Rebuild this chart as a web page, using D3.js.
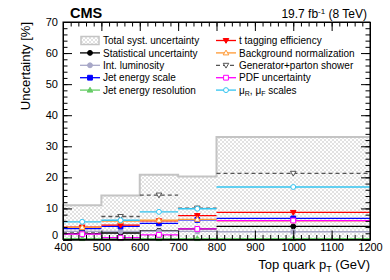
<!DOCTYPE html>
<html>
<head>
<meta charset="utf-8">
<script src="https://cdn.jsdelivr.net/npm/d3@7"></script>
<style>
  body { margin: 0; background: #fff; }
  text { font-family: "Liberation Sans", Arial, sans-serif; }
</style>
</head>
<body>
<svg id="chart" width="390" height="280"></svg>
<script>
// bin edges (GeV) and bin centres
var edges = [400, 500, 600, 700, 800, 1200];
var centers = [450, 550, 650, 750, 1000];

// uncertainties in % per bin
var totalSyst  = [11.0, 14.2, 20.8, 20.3, 33.0];
var statUnc    = [1.9, 2.1, 2.8, 3.4, 4.2];
var lumiUnc    = [2.6, 2.6, 2.6, 2.6, 2.5];
var jesUnc     = [3.5, 4.2, 5.2, 6.3, 6.8];
var jerUnc     = [0.3, 0.3, 0.3, 0.3, 0.3];
var ttagUnc    = [4.0, 4.6, 6.0, 7.7, 8.7];
var bkgUnc     = [3.9, 5.9, 6.2, 6.5, 6.0];
var genUnc     = [2.1, 7.4, 14.3, 10.1, 21.3];
var pdfUnc     = [1.7, 0.6, 1.5, 3.4, 6.1];
var scaleUnc   = [5.7, 6.2, 8.9, 9.9, 16.9];

var xTicks = [400, 500, 600, 700, 800, 900, 1000, 1100, 1200];
var yTicks = [0, 10, 20, 30, 40, 50, 60, 70];

var svg = d3.select("#chart");
var margin = {top: 22, right: 20, bottom: 40.5, left: 63},
    W = 390, H = 280,
    width = W - margin.left - margin.right,
    height = H - margin.top - margin.bottom;

var x = d3.scaleLinear().domain([400, 1200]).range([0, width]);
var y = d3.scaleLinear().domain([0, 70]).range([height, 0]);

var defs = svg.append("defs");
var pat = defs.append("pattern")
  .attr("id", "hatch").attr("patternUnits", "userSpaceOnUse")
  .attr("width", 4).attr("height", 4);
pat.append("path").attr("d", "M0,0 L4,4 M4,0 L0,4")
  .attr("stroke", "#cfcfcf").attr("stroke-width", 0.6);

var g = svg.append("g").attr("transform", "translate(" + margin.left + "," + margin.top + ")");

// total systematic band
var stepPts = edges.map(function(e, i) { return [e, i < totalSyst.length ? totalSyst[i] : totalSyst[totalSyst.length - 1]]; });
var area = d3.area().curve(d3.curveStepAfter)
  .x(function(d) { return x(d[0]); }).y0(y(0)).y1(function(d) { return y(d[1]); });
g.append("path").datum(stepPts).attr("d", area).attr("fill", "url(#hatch)");
var outline = stepPts.slice();
outline.unshift([400, 0]);
outline.push([1200, 0]);
g.append("path").datum(outline)
  .attr("d", d3.line().curve(d3.curveStepAfter).x(function(d) { return x(d[0]); }).y(function(d) { return y(d[1]); }))
  .attr("fill", "none").attr("stroke", "#c4c4c4").attr("stroke-width", 2);

var series = [
  {name: "Statistical uncertainty", vals: statUnc, color: "#000000", marker: "circle", fill: true},
  {name: "Int. luminosity", vals: lumiUnc, color: "#a8a8c8", marker: "circle", fill: true},
  {name: "Jet energy scale", vals: jesUnc, color: "#0000ff", marker: "square", fill: true},
  {name: "Jet energy resolution", vals: jerUnc, color: "#66cc66", marker: "triUp", fill: true},
  {name: "t tagging efficiency", vals: ttagUnc, color: "#ff0000", marker: "triDown", fill: true},
  {name: "Background normalization", vals: bkgUnc, color: "#ff9933", marker: "triUp", fill: false},
  {name: "Generator+parton shower", vals: genUnc, color: "#555555", marker: "triDown", fill: false, dash: "4,3"},
  {name: "PDF uncertainty", vals: pdfUnc, color: "#ff00ff", marker: "square", fill: false},
  {name: "scales", vals: scaleUnc, color: "#33c4f0", marker: "circle", fill: false}
];

function markerPath(type) {
  var s = 2.4;
  if (type === "circle") return d3.symbol(d3.symbolCircle, 19)();
  if (type === "square") return "M" + (-s) + "," + (-s) + "H" + s + "V" + s + "H" + (-s) + "Z";
  if (type === "triUp") return "M0," + (-s - 0.4) + "L" + (s + 0.4) + "," + (s - 0.4) + "L" + (-s - 0.4) + "," + (s - 0.4) + "Z";
  return "M0," + (s + 0.4) + "L" + (s + 0.4) + "," + (-s + 0.4) + "L" + (-s - 0.4) + "," + (-s + 0.4) + "Z";
}

function drawMarker(sel, d, cx, cy) {
  sel.append("path")
    .attr("d", markerPath(d.marker))
    .attr("transform", "translate(" + cx + "," + cy + ")")
    .attr("fill", d.fill ? d.color : "#fff")
    .attr("stroke", d.color).attr("stroke-width", 1);
}

series.forEach(function(s) {
  var sg = g.append("g");
  s.vals.forEach(function(v, i) {
    sg.append("line")
      .attr("x1", x(edges[i])).attr("x2", x(edges[i + 1]))
      .attr("y1", y(v)).attr("y2", y(v))
      .attr("stroke", s.color).attr("stroke-width", 1.3)
      .attr("stroke-dasharray", s.dash || null);
    drawMarker(sg, s, x(centers[i]), y(v));
  });
});

// axes (ROOT style, ticks pointing inwards, mirrored)
var minorX = d3.range(400, 1201, 20);
var minorY = d3.range(0, 70.1, 2);

g.append("g").attr("transform", "translate(0," + height + ")")
  .call(d3.axisBottom(x).tickValues(minorX).tickSize(-4.5).tickFormat(""));
g.append("g").attr("transform", "translate(0," + height + ")")
  .call(d3.axisBottom(x).tickValues(xTicks).tickSize(-9).tickPadding(3.5).tickFormat(d3.format("d")));
g.append("g").call(d3.axisTop(x).tickValues(minorX).tickSize(-4.5).tickFormat(""));
g.append("g").call(d3.axisTop(x).tickValues(xTicks).tickSize(-9).tickFormat(""));

g.append("g").call(d3.axisLeft(y).tickValues(minorY).tickSize(-4.5).tickFormat(""));
var yAx = g.append("g").call(d3.axisLeft(y).tickValues(yTicks).tickSize(-9).tickPadding(5).tickFormat(d3.format("d")));
yAx.selectAll(".tick text").filter(function(d) { return d === 0; }).attr("dy", "-0.05em");
g.append("g").attr("transform", "translate(" + width + ",0)")
  .call(d3.axisRight(y).tickValues(minorY).tickSize(-4.5).tickFormat(""));
g.append("g").attr("transform", "translate(" + width + ",0)")
  .call(d3.axisRight(y).tickValues(yTicks).tickSize(-9).tickFormat(""));

g.selectAll(".domain").attr("stroke", "#000");
g.selectAll(".tick line").attr("stroke", "#000");
g.selectAll(".tick text").attr("font-size", 11).attr("fill", "#000")
  .style("font-family", "'Liberation Sans', Arial, sans-serif");

g.append("rect").attr("width", width).attr("height", height)
  .attr("fill", "none").attr("stroke", "#000").attr("stroke-width", 1);

// titles
svg.append("text").attr("x", 70).attr("y", 18)
  .attr("font-size", 14.5).attr("font-weight", "bold").text("CMS");
var lt = svg.append("text").attr("x", 367).attr("y", 18).attr("text-anchor", "end").attr("font-size", 12);
lt.append("tspan").text("19.7 fb");
lt.append("tspan").attr("dy", -4).attr("font-size", 8).text("-1");
lt.append("tspan").attr("dy", 4).text(" (8 TeV)");

svg.append("text")
  .attr("transform", "translate(30," + margin.top + ") rotate(-90)")
  .attr("text-anchor", "end").attr("font-size", 13).text("Uncertainty [%]");

var xt = svg.append("text").attr("x", 370).attr("y", 269).attr("text-anchor", "end").attr("font-size", 13);
xt.append("tspan").text("Top quark p");
xt.append("tspan").attr("dy", 3).attr("font-size", 9).text("T");
xt.append("tspan").attr("dy", -3).text(" (GeV)");

// legend
var legRows = [
  ["total", 4], [0, 5], [1, 6], [2, 7], [3, 8]
];
var colSample = [80, 216], colText = [103, 239];
var rowY0 = 40.5, rowStep = 12.4;
var leg = svg.append("g");

function legText(sel, s, tx, ty) {
  var t = sel.append("text").attr("x", tx).attr("y", ty + 3.6).attr("font-size", 10);
  if (s === "total") { t.text("Total syst. uncertainty"); return; }
  if (s.name === "scales") {
    t.append("tspan").text("\u03bc");
    t.append("tspan").attr("dy", 2.5).attr("font-size", 7).text("R");
    t.append("tspan").attr("dy", -2.5).text(", \u03bc");
    t.append("tspan").attr("dy", 2.5).attr("font-size", 7).text("F");
    t.append("tspan").attr("dy", -2.5).text(" scales");
    return;
  }
  t.text(s.name);
}

legRows.forEach(function(row, r) {
  var ly = rowY0 + r * rowStep;
  row.forEach(function(idx, c) {
    var x0 = colSample[c];
    if (idx === "total") {
      leg.append("rect").attr("x", x0 + 1).attr("y", ly - 4).attr("width", 18).attr("height", 8)
        .attr("fill", "url(#hatch)").attr("stroke", "#c4c4c4").attr("stroke-width", 1.5);
      legText(leg, "total", colText[c], ly);
      return;
    }
    var s = series[idx];
    leg.append("line").attr("x1", x0).attr("x2", x0 + 20).attr("y1", ly).attr("y2", ly)
      .attr("stroke", s.color).attr("stroke-width", 1.3)
      .attr("stroke-dasharray", s.dash || null);
    drawMarker(leg, s, x0 + 10, ly);
    legText(leg, s, colText[c], ly);
  });
});
</script>
</body>
</html>
